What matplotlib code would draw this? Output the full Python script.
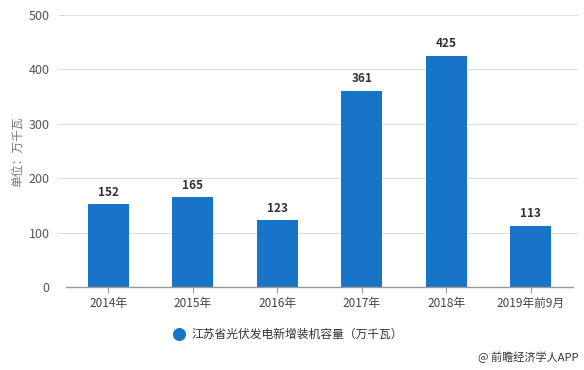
import matplotlib
matplotlib.use("Agg")
import matplotlib.pyplot as plt

plt.rcParams['font.family'] = ['Noto Sans CJK SC', 'DejaVu Sans']

categories = ["2014年", "2015年", "2016年", "2017年", "2018年", "2019年前9月"]
values = [152, 165, 123, 361, 425, 113]
series_name = "江苏省光伏发电新增装机容量（万千瓦）"
yticks = [0, 100, 200, 300, 400, 500]

W, H = 584, 370
fig = plt.figure(figsize=(W / 100, H / 100), dpi=100)
left_px, right_px = 58, 578
ax = fig.add_axes([left_px / W, 1 - 287 / H, (right_px - left_px) / W, (287 - 15) / H])

bar_color = "#1874c6"
x = list(range(len(categories)))
ax.bar(x, values, width=0.48, color=bar_color, zorder=3)
for xi, v in zip(x, values):
    ax.text(xi, v + 10, str(v), ha="center", va="bottom", fontsize=8.5,
            fontweight="bold", color="#333333")

step = 84.5
ax.set_xlim(-0.5 - (66 - left_px) / step, 5.5 + (right_px - 573) / step)
ax.set_ylim(0, 500)
ax.set_yticks(yticks)
ax.set_yticklabels([str(t) for t in yticks])
ax.grid(axis="y", color="#dddddd", linewidth=0.8, zorder=0)
ax.set_xticks(x)
ax.set_xticklabels(categories)
for s in ax.spines.values():
    s.set_visible(False)
ax.plot([-0.5, 5.5], [0, 0], color="#999999", linewidth=1.0, zorder=4, clip_on=False)
ax.tick_params(axis="y", length=0, labelsize=9, labelcolor="#555555", pad=6)
ax.tick_params(axis="x", length=4, color="#999999", labelsize=8.5, labelcolor="#444444", pad=3)

fig.text(18 / W, 1 - 152 / H, "单位：万千瓦", rotation=90, ha="center", va="center",
         fontsize=8.5, color="#777777")

ax_leg = fig.add_axes([0, 0, 1, 1], facecolor="none")
ax_leg.set_xlim(0, W)
ax_leg.set_ylim(H, 0)
ax_leg.axis("off")
ax_leg.scatter([179], [334], s=70, color=bar_color)
ax_leg.text(191, 334, series_name, ha="left", va="center", fontsize=8.5, color="#333333")
ax_leg.text(578, 357, "@ 前瞻经济学人APP", ha="right", va="center", fontsize=8, color="#333333")

fig.savefig("out.png", dpi=100)
